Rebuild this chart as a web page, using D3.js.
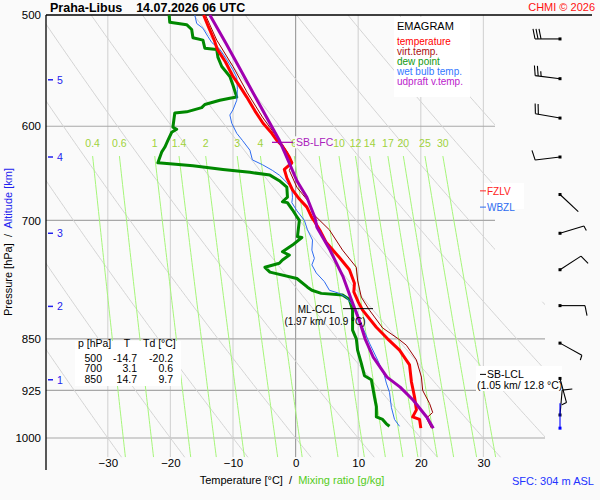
<!DOCTYPE html>
<html>
<head>
<meta charset="utf-8">
<script src="https://cdn.jsdelivr.net/npm/d3@7"></script>
<style>
  body { margin: 0; background: #fafafa; }
  svg { display: block; font-family: "Liberation Sans", Arial, sans-serif; }
  text { white-space: pre; }
</style>
</head>
<body>
<div id="chart"></div>
<script>
// Sounding data: [pressure hPa, value °C]
const temperature = [[500,-14.7],[510,-13.9],[521,-13.0],[529,-12.5],[540,-11.2],[553,-10.0],[562,-8.9],[572,-7.8],[585,-6.5],[597,-5.2],[607,-3.8],[614,-3.0],[619,-2.2],[631,-1.0],[637,-0.6],[644,-1.8],[653,-1.4],[666,-0.5],[676,0.6],[685,1.8],[697,2.6],[700,2.9],[713,4.0],[726,4.9],[744,7.0],[759,8.6],[776,9.4],[787,9.3],[800,10.0],[811,10.7],[834,12.9],[850,14.7],[866,16.6],[887,18.2],[912,18.5],[935,19.0],[955,19.3],[966,18.7],[970,19.8],[984,20.0]];
const virtTemp = [[500,-14.4],[521,-12.6],[544,-10.0],[568,-7.7],[591,-5.3],[614,-2.6],[626,-1.3],[637,-0.5],[645,-1.0],[663,0.2],[680,2.2],[692,2.7],[711,5.4],[735,7.5],[756,9.7],[772,9.9],[794,10.5],[811,11.8],[835,13.9],[850,16.4],[859,17.7],[880,19.3],[905,20.1],[925,20.3],[945,21.4],[959,21.9],[968,20.9],[984,21.7]];
const dewPoint = [[500,-20.2],[506,-20.1],[508,-17.4],[512,-16.6],[519,-16.4],[521,-14.8],[528,-14.5],[529,-12.6],[536,-12.4],[544,-11.8],[553,-10.5],[561,-10.0],[572,-9.4],[573,-10.5],[575,-12.1],[579,-14.5],[582,-15.0],[586,-17.4],[587,-19.3],[601,-19.6],[603,-19.0],[606,-19.8],[614,-20.4],[621,-20.9],[626,-21.4],[637,-22.0],[638,-20.1],[640,-16.4],[644,-11.6],[646,-8.9],[647,-7.3],[650,-4.1],[656,-2.6],[663,-1.4],[674,-1.3],[679,-2.1],[680,-1.3],[688,-0.5],[697,0.3],[700,0.6],[719,0.3],[720,1.0],[729,-0.5],[737,-2.1],[741,-1.0],[747,-2.1],[751,-2.6],[756,-4.9],[762,-4.1],[770,0.2],[781,1.9],[785,2.6],[789,4.1],[791,7.5],[797,8.6],[811,9.1],[838,9.1],[850,9.7],[866,9.9],[885,10.5],[903,11.0],[909,12.1],[935,12.6],[950,12.9],[966,12.9],[970,13.9],[977,14.5],[981,15.0]];
const wetBulb = [[500,-16.1],[507,-15.8],[511,-14.8],[518,-14.0],[523,-13.4],[529,-12.1],[538,-11.0],[547,-10.0],[554,-9.4],[565,-9.3],[575,-9.4],[584,-10.0],[589,-10.5],[597,-10.2],[607,-9.4],[614,-8.5],[624,-7.3],[634,-6.9],[639,-5.3],[645,-3.7],[650,-2.6],[658,-1.4],[664,-0.6],[674,-0.5],[680,-0.6],[689,0.2],[700,1.4],[711,1.9],[723,2.7],[735,2.6],[745,3.0],[753,2.6],[763,3.3],[774,4.6],[785,5.4],[789,7.0],[794,8.1],[811,9.7],[834,10.7],[856,11.8],[880,13.1],[903,14.2],[914,14.5],[928,15.0],[951,15.3],[970,15.8],[981,16.6]];
const updraft = [[500,-13.7],[523,-11.2],[547,-8.8],[568,-6.8],[597,-4.1],[614,-2.6],[627,-1.7],[639,-0.9],[656,0.2],[674,1.8],[697,3.1],[708,3.4],[735,5.5],[768,7.6],[797,8.9],[828,10.3],[850,11.1],[876,12.4],[905,14.6],[920,16.7],[940,18.8],[967,21.0],[984,22.0]];

// wind: pressure, direction (deg), speed (kt); last one is the surface
const windP = [520, 555, 592, 631, 671, 715, 759, 805, 856, 907, 963, 984];
const windDir = [270, 277, 280, 263, 133, 73, 57, 90, 119, 165, 5, 0];
const windSpd = [30, 25, 20, 10, 2, 5, 10, 10, 5, 5, 10, 2];

// axes / grid
const pressureTicks = [500, 600, 700, 850, 925, 1000];
const tempTicks = [-30, -20, -10, 0, 10, 20, 30];
const mixRatios = [0.4, 0.6, 1, 1.4, 2, 3, 4, 6, 8, 10, 12, 14, 17, 20, 25, 30];
const thetaLines = [-30, -20, -10, 0, 10, 20, 30, 40, 50, 60, 70, 80];
const altKm = [1, 2, 3, 4, 5];
const altP = [909, 806, 715, 631, 556];

// table and levels
const tableP = [500, 700, 850];
const tableT = [-14.7, 3.1, 14.7];
const tableTd = [-20.2, 0.6, 9.7];
const lfcP = 616, fzlvP = 667, wbzlP = 685, lclP = 901, cclP = 809;
const lclText = "(1.05 km/ 12.8 °C)";
const cclText = "(1.97 km/ 10.9 °C)";

const width = 600, height = 500;
const svg = d3.select("#chart").append("svg")
    .attr("width", width)
    .attr("height", height);

svg.append("rect").attr("width", width).attr("height", height).attr("fill", "#fafafa");

const x = d3.scaleLinear().domain([-40, 40]).range([45.2, 546]);
const y = d3.scaleLog().domain([500, 1000]).range([15, 438]);
const pBottom = 1032;
const yB = y(pBottom);

// clip: narrow upper part, wider below 800 hPa
const clip = svg.append("defs").append("clipPath").attr("id", "plotclip");
clip.append("rect").attr("x", 46).attr("y", 15).attr("width", 449).attr("height", yB - 15);
clip.append("rect").attr("x", 46).attr("y", y(800)).attr("width", 499).attr("height", yB - y(800));

const grid = svg.append("g").attr("clip-path", "url(#plotclip)");

// vertical isotherms
tempTicks.forEach(t => {
    grid.append("line")
        .attr("x1", x(t)).attr("x2", x(t))
        .attr("y1", 15).attr("y2", yB)
        .attr("stroke", t === 0 ? "#a0a0a0" : "#d6d6d6")
        .attr("stroke-width", 1.2);
});

// isobars
pressureTicks.slice(1).forEach(p => {
    grid.append("line")
        .attr("x1", 46).attr("x2", p >= 800 ? 545 : 495)
        .attr("y1", y(p)).attr("y2", y(p))
        .attr("stroke", "#a8a8a8")
        .attr("stroke-width", 1.2);
});

// dry adiabats
const pSteps = d3.range(480, 1041, 4);
const adiabat = d3.line().x(d => x(d[1])).y(d => y(d[0]));
thetaLines.forEach(th => {
    const pts = pSteps.map(p => [p, (th + 273.15) * Math.pow(p / 1000, 0.2857) - 273.15]);
    grid.append("path")
        .attr("d", adiabat(pts))
        .attr("fill", "none")
        .attr("stroke", "#d4d4d4")
        .attr("stroke-width", 1);
});

// saturation mixing ratio lines
function dewFromMix(w, p) {
    const e = w * p / (622 + w);
    const l = Math.log(e / 6.112);
    return 243.5 * l / (17.67 - l);
}
const lfcBoxX = 295, lfcBoxW = 37;
const mixSteps = d3.range(630, pBottom + 1, 6);
mixRatios.forEach(w => {
    const pts = mixSteps.map(p => [p, dewFromMix(w, p)]);
    grid.append("path")
        .attr("d", adiabat(pts))
        .attr("fill", "none")
        .attr("stroke", "#a6f57a")
        .attr("stroke-width", 1);
    const lx = x(dewFromMix(w, 630));
    // labels hidden under the SB-LFC box are not shown in the reference
    if (lx > lfcBoxX + 2 && lx < lfcBoxX + lfcBoxW) return;
    svg.append("text")
        .attr("x", lx)
        .attr("y", 147)
        .attr("text-anchor", "middle")
        .attr("font-size", 10.5)
        .attr("fill", "#9fd23c")
        .text(w);
});

// top line and left axis
svg.append("line").attr("x1", 46).attr("x2", 592).attr("y1", 15).attr("y2", 15)
    .attr("stroke", "#000").attr("stroke-width", 1.3);
svg.append("line").attr("x1", 46).attr("x2", 46).attr("y1", 15).attr("y2", 470)
    .attr("stroke", "#000").attr("stroke-width", 1.3);

// pressure labels
const yAxis = svg.append("g")
    .attr("transform", "translate(46,0)")
    .call(d3.axisLeft(y).tickValues(pressureTicks).tickFormat(d3.format("d")).tickSize(0).tickPadding(5));
yAxis.select(".domain").remove();
yAxis.selectAll("text").attr("font-size", 11.5).attr("fill", "#000")
    .attr("font-family", "Liberation Sans, Arial, sans-serif");

// temperature labels
const xAxis = svg.append("g")
    .attr("transform", `translate(0,${yB})`)
    .call(d3.axisBottom(x).tickValues(tempTicks).tickSize(0).tickPadding(2));
xAxis.select(".domain").remove();
xAxis.selectAll("text").attr("font-size", 11.5).attr("fill", "#000")
    .attr("font-family", "Liberation Sans, Arial, sans-serif");

// altitude ticks
altKm.forEach((k, i) => {
    svg.append("line").attr("x1", 48).attr("x2", 53)
        .attr("y1", y(altP[i])).attr("y2", y(altP[i]))
        .attr("stroke", "#2222ee").attr("stroke-width", 1.5);
    svg.append("text").attr("x", 57).attr("y", y(altP[i]) + 4)
        .attr("font-size", 10.5).attr("fill", "#2222ee").text(k);
});

// boxes behind labels
const boxes = [[394, 17, 76, 80], [75, 341, 106, 45], [484, 183, 40, 26], [476, 366, 86, 25]];
boxes.forEach(b => {
    svg.append("rect").attr("x", b[0]).attr("y", b[1]).attr("width", b[2]).attr("height", b[3])
        .attr("fill", "#ffffff");
});

// curves
const curve = d3.line().x(d => x(d[1])).y(d => y(d[0]));
const series = [
    [dewPoint, "#008800", 3],
    [wetBulb, "#2e6cf0", 1],
    [virtTemp, "#990000", 1],
    [temperature, "#ff0000", 3],
    [updraft, "#a000b0", 3]
];
series.forEach(s => {
    svg.append("path")
        .attr("d", curve(s[0]))
        .attr("fill", "none")
        .attr("stroke", s[1])
        .attr("stroke-width", s[2])
        .attr("stroke-linejoin", "round");
});

// title
svg.append("text").attr("x", 50).attr("y", 12).attr("font-size", 12.5).attr("font-weight", "bold")
    .text("Praha-Libus    14.07.2026 06 UTC");
svg.append("text").attr("x", 595).attr("y", 11).attr("text-anchor", "end").attr("font-size", 11)
    .attr("fill", "#ff1111").text("CHMI © 2026");

// legend
svg.append("text").attr("x", 397).attr("y", 30).attr("font-size", 11).text("EMAGRAM");
const legendItems = [["temperature", "#ff0000"], ["virt.temp.", "#aa1111"], ["dew point", "#119911"],
    ["wet bulb temp.", "#3377ff"], ["udpraft v.temp.", "#bb22cc"]];
legendItems.forEach((d, i) => {
    svg.append("text").attr("x", 397).attr("y", 45 + i * 10).attr("font-size", 10)
        .attr("fill", d[1]).text(d[0]);
});

// table
const tbl = svg.append("g").attr("font-size", 10.5);
tbl.append("text").attr("x", 78).attr("y", 347).text("p [hPa]");
tbl.append("text").attr("x", 127).attr("y", 347).attr("text-anchor", "middle").text("T");
tbl.append("text").attr("x", 143).attr("y", 347).text("Td [°C]");
tableP.forEach((p, i) => {
    const yy = 361.5 + i * 10.5;
    tbl.append("text").attr("x", 102).attr("y", yy).attr("text-anchor", "end").text(p);
    tbl.append("text").attr("x", 137).attr("y", yy).attr("text-anchor", "end").text(tableT[i].toFixed(1));
    tbl.append("text").attr("x", 173).attr("y", yy).attr("text-anchor", "end").text(tableTd[i].toFixed(1));
});

// level labels
svg.append("rect").attr("x", lfcBoxX).attr("y", y(lfcP) - 6).attr("width", lfcBoxW).attr("height", 12).attr("fill", "#fafafa");
svg.append("line").attr("x1", 272).attr("x2", 293).attr("y1", y(lfcP)).attr("y2", y(lfcP))
    .attr("stroke", "#a000b0").attr("stroke-width", 1.2);
svg.append("text").attr("x", 296).attr("y", y(lfcP) + 4).attr("font-size", 10.5)
    .attr("fill", "#aa22bb").text("SB-LFC");

[[fzlvP, "FZLV", "#ff2222"], [wbzlP, "WBZL", "#2e6cf0"]].forEach(d => {
    svg.append("line").attr("x1", 480).attr("x2", 486).attr("y1", y(d[0])).attr("y2", y(d[0]))
        .attr("stroke", d[2]).attr("stroke-width", 1);
    svg.append("text").attr("x", 487).attr("y", y(d[0]) + 4).attr("font-size", 10)
        .attr("fill", d[2]).text(d[1]);
});

svg.append("line").attr("x1", 480).attr("x2", 486).attr("y1", y(lclP)).attr("y2", y(lclP))
    .attr("stroke", "#000").attr("stroke-width", 1);
svg.append("text").attr("x", 487).attr("y", y(lclP) + 4).attr("font-size", 10.5).text("SB-LCL");
svg.append("text").attr("x", 477).attr("y", y(lclP) + 15).attr("font-size", 10.5).text(lclText);

svg.append("line").attr("x1", 343).attr("x2", 373).attr("y1", y(cclP)).attr("y2", y(cclP))
    .attr("stroke", "#000").attr("stroke-width", 1);
svg.append("text").attr("x", 335).attr("y", y(cclP) + 4).attr("text-anchor", "end")
    .attr("font-size", 10).text("ML-CCL");
svg.append("text").attr("x", 325).attr("y", y(cclP) + 16).attr("text-anchor", "middle")
    .attr("font-size", 10).text(cclText);

// wind barbs
windP.forEach((p, i) => {
    const bx = 560, by = y(p);
    const a = windDir[i] * Math.PI / 180;
    const ux = Math.sin(a), uy = -Math.cos(a);
    const nx = -uy, ny = ux;
    const L = 25;
    const col = i === windP.length - 1 ? "#0000ff" : "#000";
    const g = svg.append("g").attr("stroke", col).attr("stroke-width", 1.1);
    g.append("line").attr("x1", bx).attr("y1", by)
        .attr("x2", bx + ux * L).attr("y2", by + uy * L);
    let s = windSpd[i], pos = L;
    while (s >= 10) {
        const sx = bx + ux * pos, sy = by + uy * pos;
        g.append("line").attr("x1", sx).attr("y1", sy)
            .attr("x2", sx + nx * 10 + ux * 2).attr("y2", sy + ny * 10 + uy * 2);
        pos -= 3; s -= 10;
    }
    if (s >= 5) {
        const sx = bx + ux * pos, sy = by + uy * pos;
        g.append("line").attr("x1", sx).attr("y1", sy)
            .attr("x2", sx + nx * 5 + ux * 1).attr("y2", sy + ny * 5 + uy * 1);
    }
    svg.append("rect").attr("x", bx - 1.5).attr("y", by - 1.5).attr("width", 3).attr("height", 3)
        .attr("fill", col);
});

// axis titles
const yt = svg.append("text")
    .attr("transform", "translate(12,242) rotate(-90)")
    .attr("text-anchor", "middle")
    .attr("font-size", 11);
yt.append("tspan").attr("fill", "#000").text("Pressure [hPa]  /  ");
yt.append("tspan").attr("fill", "#2222ee").text("Altitude [km]");

const xt = svg.append("text")
    .attr("x", 292).attr("y", 484)
    .attr("text-anchor", "middle")
    .attr("font-size", 11);
xt.append("tspan").attr("fill", "#000").text("Temperature [°C]  /  ");
xt.append("tspan").attr("fill", "#55cc22").text("Mixing ratio [g/kg]");

svg.append("text").attr("x", 512).attr("y", 485).attr("font-size", 11)
    .attr("fill", "#2233ff").text("SFC: 304 m ASL");
</script>
</body>
</html>
